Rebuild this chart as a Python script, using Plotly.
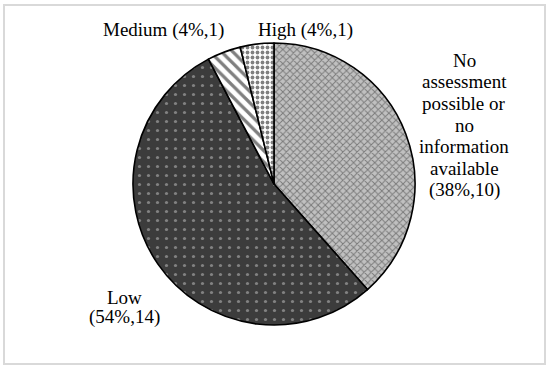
import plotly.graph_objects as go

categories = ["No assessment possible or no information available", "Low", "Medium", "High"]
values = [10, 14, 1, 1]
percents = ["38%", "54%", "4%", "4%"]

no_assess_lines = ["No", "assessment", "possible or", "no", "information", "available", "(38%,10)"]
low_lines = ["Low", "(54%,14)"]
medium_label = "Medium (4%,1)"
high_label = "High (4%,1)"

fig = go.Figure()
fig.add_trace(go.Pie(
    labels=categories,
    values=values,
    sort=False,
    direction="clockwise",
    rotation=0,
    textinfo="none",
    hoverinfo="label+value+percent",
    showlegend=False,
    domain=dict(x=[0.2418, 0.7545], y=[0.1216, 0.8838]),
    marker=dict(
        colors=["#a8a8a8", "#404040", "white", "white"],
        line=dict(color="black", width=1.6),
        pattern=dict(
            shape=["x", ".", "\\", "."],
            fgcolor=["#333333", "#c8c8c8", "black", "black"],
            bgcolor=["#c0c0c0", "#3c3c3c", "white", "white"],
            size=[5, 9, 8, 5],
            solidity=[0.35, 0.1, 0.4, 0.45],
            fillmode="overlay",
        ),
    ),
))

font = dict(family="Liberation Serif", size=19, color="black")
W, H = 550, 370

def add_label(text, px, py):
    fig.add_annotation(text=text, x=px / W, y=1 - py / H, xref="paper", yref="paper",
                       showarrow=False, xanchor="center", yanchor="middle", font=font)

for i, line in enumerate(no_assess_lines):
    add_label(line, 464, 60 + i * 21.7)
for i, line in enumerate(low_lines):
    add_label(line, 124, 297 + i * 20)
add_label(medium_label, 163, 30)
add_label(high_label, 305, 30)

fig.add_shape(type="rect", xref="paper", yref="paper",
              x0=4 / W, x1=545 / W, y0=1 - 364 / H, y1=1 - 5 / H,
              line=dict(color="#d9d9d9", width=2), fillcolor="rgba(0,0,0,0)",
              layer="above")

fig.update_layout(width=W, height=H, margin=dict(l=0, r=0, t=0, b=0),
                  paper_bgcolor="white", plot_bgcolor="white")
fig.write_html("out.html", config={"displayModeBar": False},
               post_script="document.body.style.margin='0';")
